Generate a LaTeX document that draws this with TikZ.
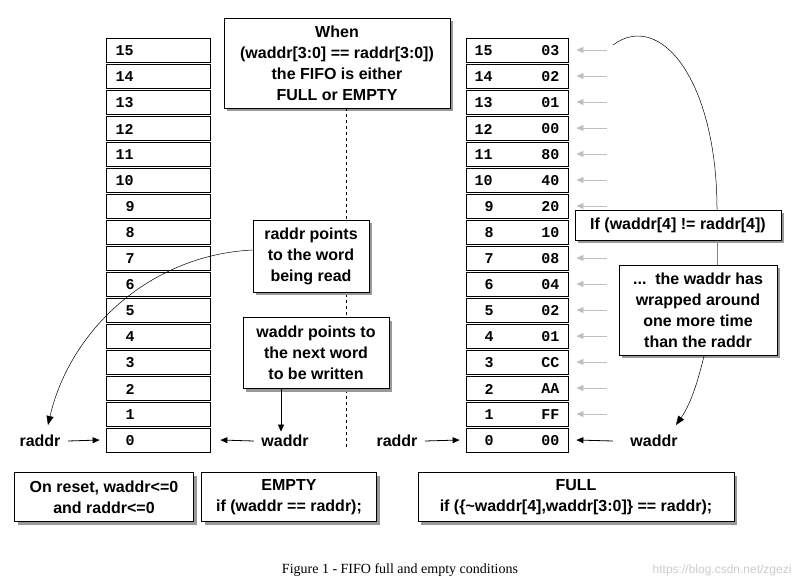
\documentclass[tikz,border=0pt]{standalone}
\usepackage{fontspec}
\setmainfont{Liberation Sans}
\newfontfamily\monof{Liberation Mono}
\newfontfamily\serf{Liberation Serif}
\usetikzlibrary{arrows.meta}
\begin{document}
\begin{tikzpicture}[x=1pt,y=-1pt,
  cell/.style={draw,line width=0.8pt,minimum width=104pt,minimum height=24pt,inner sep=0pt},
  num/.style={font=\monof\bfseries\fontsize{15}{15}\selectfont},
  box/.style={draw,fill=white,line width=0.8pt,preaction={fill=gray!80,transform canvas={xshift=3pt,yshift=-3pt}},align=center,font=\bfseries\fontsize{16}{21}\selectfont,inner sep=3pt},
  lab/.style={font=\bfseries\fontsize{16}{16}\selectfont},
  arr/.style={-{Triangle[length=7pt,width=6pt]},line width=0.8pt},
  garr/.style={-{Triangle[length=7pt,width=6pt]},line width=0.8pt,gray!50},
  curve/.style={-{Triangle[length=9pt,width=7pt]},line width=0.5pt}]
\useasboundingbox (0,0) rectangle (802,586);
\fill[white] (0,0) rectangle (802,586);
% left column
\foreach \i in {0,...,15}{
  \node[cell] (L\i) at (158,{440-26*\i}) {};
  \node[num,anchor=west] at ({\i<10?122:112},{441-26*\i}) {\i};
}
% right column
\def\vals{{"00","FF","AA","CC","01","02","04","08","10","20","40","80","00","01","02","03"}}
\foreach \i in {0,...,15}{
  \node[cell,minimum width=102pt] (R\i) at (517,{440-26*\i}) {};
  \node[num,anchor=west] at ({\i<10?481:471},{441-26*\i}) {\i};
  \node[num,anchor=east] at (563,{441-26*\i}) {\pgfmathparse{\vals[\i]}\pgfmathresult};
}
\foreach \i in {1,...,15}{ \coordinate (g\i) at (607,{440-26*\i}); \draw[garr] (g\i) -- ([xshift=8pt]R\i.east); }
% top box and dashed line
\node[box,minimum width=226pt,minimum height=90pt] (top) at (337,63) {When\\(waddr[3:0] == raddr[3:0])\\the FIFO is either\\FULL or EMPTY};
\coordinate (dend) at (346,450);
\draw[dashed,line width=0.6pt] (top.south -| dend) -- (dend);
\node[box,minimum width=116pt,minimum height=72pt] (rb) at (311,256) {raddr points\\to the word\\being read};
\node[box,minimum width=146pt,minimum height=71pt] (wb) at (316,353) {waddr points to\\the next word\\to be written};
% labels
\node[lab] (rl) at (40,441) {raddr};
\node[lab] (wl) at (285,441) {waddr};
\node[lab] (rr) at (397,441) {raddr};
\node[lab] (wr) at (654,441) {waddr};
\draw[arr] (rl.east) ++(4,0) -- ([xshift=-6pt]L0.west);
\draw[arr] (wl.west) ++(-4,0) -- ([xshift=10pt]L0.east);
\draw[arr] (rr.east) ++(4,0) -- ([xshift=-6pt]R0.west);
\draw[arr] (wr.west) ++(-14,0) -- ([xshift=8pt]R0.east);
\coordinate (wtop) at (281,388);
\draw[arr] (wtop) -- (wl.north -| wtop);
\draw[curve] (rb.west |- 0,250) .. controls (150,255) and (70,330) .. (48,425);
% right boxes
\node[box,minimum width=206pt,minimum height=30pt] (ifb) at (678,225) {If (waddr[4] != raddr[4])};
\draw[line width=0.5pt] (613,45) .. controls (660,10) and (717,80) .. (717,210);
\draw[line width=0.5pt,gray] (717,240) -- (717,265);
\node[box,minimum width=158pt,minimum height=90pt] (wrb) at (698,310) {...\ \ the waddr has\\wrapped around\\one more time\\than the raddr};
\node[box,minimum width=206pt,minimum height=30pt] at (678,225) {If (waddr[4] != raddr[4])};
\draw[curve] (704,356) .. controls (697,385) and (690,405) .. (676,425);
% bottom boxes
\node[box,minimum width=179pt,minimum height=49pt] (b1) at (104,497) {On reset, waddr<=0\\and raddr<=0};
\node[box,minimum width=175pt,minimum height=49pt] (b2) at (289,497) {EMPTY\\if (waddr == raddr);};
\node[box,minimum width=316pt,minimum height=49pt] (b3) at (576,497) {FULL\\if (\{\textasciitilde waddr[4],waddr[3:0]\} == raddr);};
\node[font=\serf\fontsize{14}{14}\selectfont] (cap) at (400,570) {Figure 1 - FIFO full and empty conditions};
\node[font=\fontsize{12}{12}\selectfont,text=gray!40,anchor=east] (wm) at (795,570) {https://blog.csdn.net/zgezi};
\end{tikzpicture}
\end{document}
